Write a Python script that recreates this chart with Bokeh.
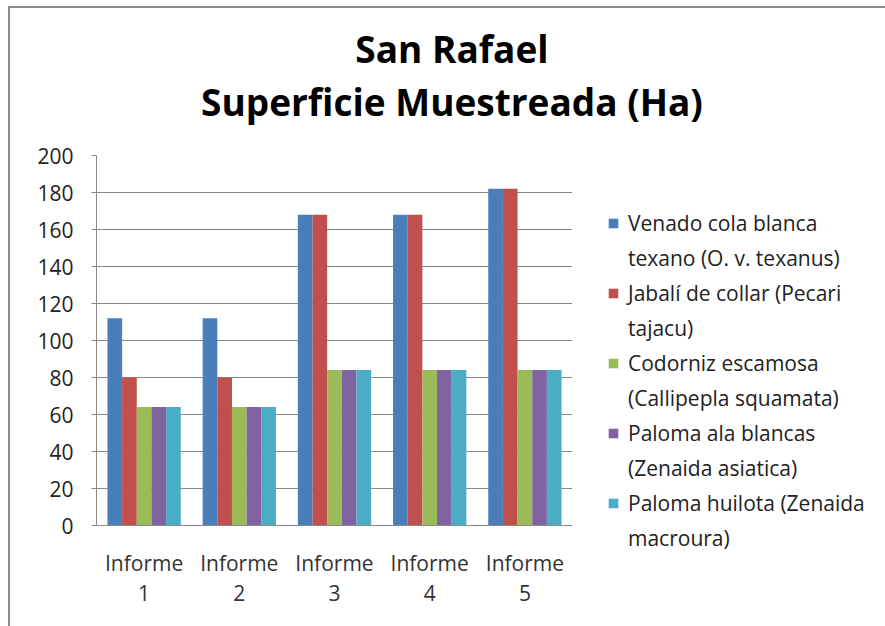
from bokeh.plotting import figure
from bokeh.models import Div, Legend, LegendItem, Range1d, FactorRange
from bokeh.layouts import column
from bokeh.transform import dodge
from bokeh.embed import file_html
from bokeh.resources import INLINE

# ---- data ----
informes = ["Informe\n1", "Informe\n2", "Informe\n3", "Informe\n4", "Informe\n5"]
venado = [112, 112, 168, 168, 182]
jabali = [80, 80, 168, 168, 182]
codorniz = [64, 64, 84, 84, 84]
paloma_ala = [64, 64, 84, 84, 84]
paloma_huilota = [64, 64, 84, 84, 84]
y_ticks = [0, 20, 40, 60, 80, 100, 120, 140, 160, 180, 200]
legend_line1 = [
    "Venado cola blanca",
    "Jabalí de collar (Pecari",
    "Codorniz escamosa",
    "Paloma ala blancas",
    "Paloma huilota (Zenaida",
]
legend_line2 = [
    "texano (O. v. texanus)",
    "tajacu)",
    "(Callipepla squamata)",
    "(Zenaida asiatica)",
    "macroura)",
]
colors = ["#4A7EBB", "#C0504D", "#9BBB59", "#8064A2", "#4BACC6"]
title_lines = ["San Rafael", "Superficie Muestreada (Ha)"]

series = [venado, jabali, codorniz, paloma_ala, paloma_huilota]

FONT = "Open Sans"

title = Div(
    text=(
        f'<div style="width:874px;text-align:center;font-family:\'{FONT}\';'
        f'font-weight:bold;font-size:37px;line-height:53px;color:#000;'
        f'padding-top:9px;">{title_lines[0]}<br>{title_lines[1]}</div>'
    ),
    width=874, height=122,
)

p = figure(
    x_range=FactorRange(*informes, range_padding=0.0),
    y_range=Range1d(0, 200),
    frame_width=476, frame_height=370,
    output_backend="svg", toolbar_location=None,
    min_border_left=86, min_border_right=312,
    min_border_top=15, min_border_bottom=104,
)

data = {"x": informes}
keys = []
for i, s in enumerate(series):
    k = f"s{i}"
    data[k] = s
    keys.append(k)

bw = 0.154
offsets = [-2 * bw, -bw, 0, bw, 2 * bw]
renderers = []
for k, off, c in zip(keys, offsets, colors):
    r = p.vbar(x=dodge("x", off, range=p.x_range), top=k, width=bw,
               source=data, fill_color=c, line_color=None)
    renderers.append(r)

p.outline_line_color = None
p.xgrid.grid_line_color = None
p.ygrid.grid_line_color = "#8a8a8a"
p.ygrid.grid_line_width = 1
p.yaxis.ticker = y_ticks
p.yaxis.axis_line_color = "#8a8a8a"
p.yaxis.major_tick_line_color = "#8a8a8a"
p.yaxis.major_tick_out = 5
p.yaxis.major_tick_in = 0
p.yaxis.minor_tick_line_color = None
p.yaxis.major_label_standoff = 18
p.yaxis.major_label_text_font = FONT
p.yaxis.major_label_text_font_size = "21px"
p.yaxis.major_label_text_color = "#222222"

p.xaxis.axis_line_color = "#8a8a8a"
p.xaxis.major_tick_line_color = None
p.xaxis.major_label_standoff = 17
p.xaxis.major_label_text_font = FONT
p.xaxis.major_label_text_font_size = "21px"
p.xaxis.major_label_text_color = "#333333"
p.xaxis.major_label_text_line_height = 1.1

# legend: first line of each entry carries the swatch, second line has a blank swatch
blank = p.vbar(x=[], top=[], width=0.1, fill_alpha=0, line_alpha=0)
items = []
for l1, l2, r in zip(legend_line1, legend_line2, renderers):
    items.append(LegendItem(label=l1, renderers=[r]))
    items.append(LegendItem(label=l2, renderers=[blank]))
legend = Legend(items=items, location=(35, -27),
                label_text_font=FONT, label_text_font_size="21px",
                label_text_color="#222222", label_height=28,
                glyph_width=12, glyph_height=12, spacing=7,
                padding=0, margin=0, border_line_color=None,
                background_fill_alpha=0, label_standoff=9)
p.add_layout(legend, "right")

layout = column(title, p, spacing=0,
                styles={"margin-left": "8px", "margin-top": "6px",
                        "border-left": "2px solid #8c8c8c",
                        "border-top": "2px solid #8c8c8c"})
open("out.html", "w").write(file_html(layout, INLINE))
